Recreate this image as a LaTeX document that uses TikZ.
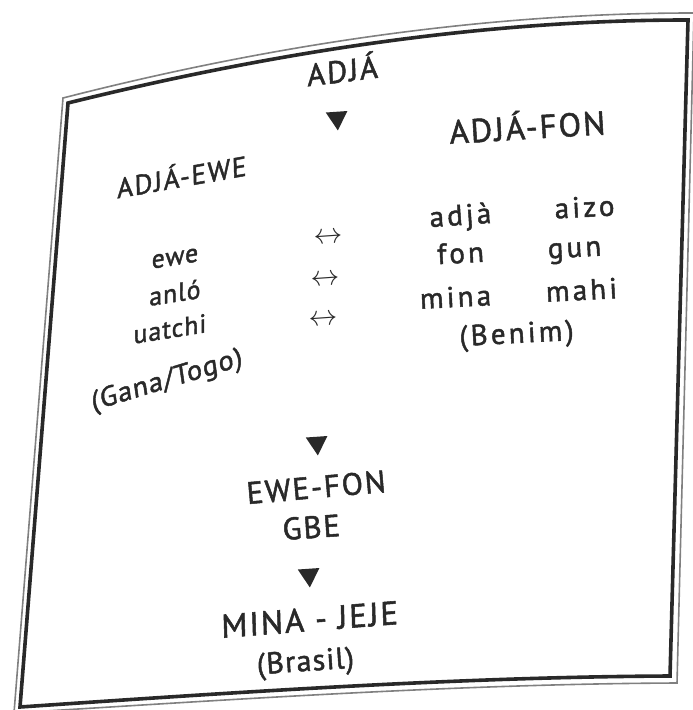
\documentclass[tikz,border=0pt]{standalone}
\usepackage{fontspec}
\newfontfamily\capsf{PT Sans}[LetterSpace=6,FakeBold=1.6]
\newfontfamily\lowsf{PT Sans}[LetterSpace=4,FakeBold=1.6]
\newfontfamily\widesf{PT Sans}[LetterSpace=11,FakeBold=1.6]
\usetikzlibrary{shapes.geometric}
\definecolor{ink}{gray}{0.16}
\begin{document}
\begin{tikzpicture}[x=0.5pt,y=-0.5pt,
  lbl/.style={anchor=base, inner sep=0pt, text=ink},
  bigcap/.style={lbl, font=\capsf\fontsize{16.5}{16.5}\selectfont},
  midcap/.style={lbl, font=\capsf\fontsize{15.5}{15.5}\selectfont},
  smallcap/.style={lbl, font=\capsf\fontsize{13.8}{13.8}\selectfont},
  leftword/.style={lbl, font=\lowsf\fontsize{13}{13}\selectfont, rotate=9, xslant=0.15},
  rightword/.style={lbl, font=\widesf\fontsize{14.5}{14.5}\selectfont},
  pairarrow/.style={anchor=center, inner sep=0pt, text=ink, font=\fontsize{15}{15}\selectfont, rotate=4},
  tri/.style={regular polygon, regular polygon sides=3, shape border rotate=180,
    fill=ink, draw=none, inner sep=0pt, minimum size=12.5pt},
  outerline/.style={line width=0.8pt, black!50},
  innerline/.style={line width=1.8pt, ink}
]
\useasboundingbox (0,0) rectangle (692,710);
\fill[white] (0,0) rectangle (692,710);
% frame
\draw[outerline] (63,98) .. controls (266,46) and (480,13) .. (694,13)
  -- (677,683) .. controls (460,684) and (240,699) .. (14,713) -- cycle;
\draw[innerline] (68,103) .. controls (270,53) and (480,20) .. (688,20)
  -- (670,676) .. controls (460,677) and (240,692) .. (20,707) -- cycle;
% top
\node[midcap, rotate=7, xslant=0.08] (adja) at (343,82) {ADJÁ};
\node[tri, rotate=4] (t1) at (337,118) {};
\node[bigcap, rotate=3.5] (adjafon) at (528,139) {ADJÁ-FON};
\node[smallcap, rotate=10, xslant=0.15] (adjaewe) at (182,187) {ADJÁ-EWE};
% left column
\node[leftword] (ewe) at (175,265) {ewe};
\node[leftword] (anlo) at (175,302) {anló};
\node[leftword] (uatchi) at (170,338) {uatchi};
\node[leftword, font=\lowsf\fontsize{14}{14}\selectfont, rotate=8] (ganatogo) at (168,388) {(Gana/Togo)};
% arrows
\node[pairarrow] (ar1) at (328,238) {$\leftrightarrow$};
\node[pairarrow] (ar2) at (325,280) {$\leftrightarrow$};
\node[pairarrow] (ar3) at (323,320) {$\leftrightarrow$};
% right column
\node[rightword, rotate=4] (adjaw) at (461,225) {adjà};
\node[rightword, rotate=3] (aizo) at (585,217) {aizo};
\node[rightword, rotate=3] (fon) at (461,263) {fon};
\node[rightword, rotate=3] (gun) at (575,257) {gun};
\node[rightword, rotate=3] (mina) at (456,307) {mina};
\node[rightword, rotate=3] (mahi) at (582,300) {mahi};
\node[rightword, rotate=3] (benim) at (517,343) {(Benim)};
% bottom chain
\node[tri, rotate=4] (t2) at (317,443) {};
\node[midcap, rotate=5] (ewefon) at (317,498) {EWE-FON};
\node[midcap, rotate=4] (gbe) at (312,538) {GBE};
\node[tri, rotate=4] (t3) at (309,575) {};
\node[bigcap, rotate=4.5, xslant=0.05] (minajeje) at (310,631) {MINA - JEJE};
\node[midcap, font=\lowsf\fontsize{15}{15}\selectfont, rotate=4] (brasil) at (306,671) {(Brasil)};
\end{tikzpicture}
\end{document}
